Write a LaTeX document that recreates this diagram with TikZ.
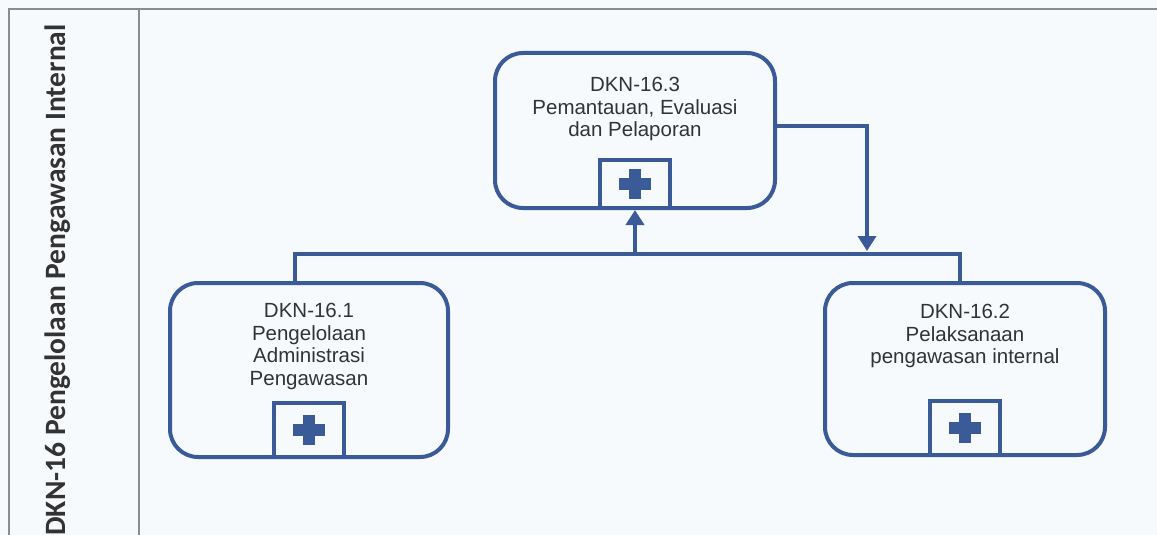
\documentclass[tikz,border=0pt]{standalone}
\usepackage{fontspec}
\setmainfont{Liberation Sans}
\newfontfamily\titlefont{Carlito}
\usetikzlibrary{arrows.meta,positioning}
\definecolor{flowblue}{HTML}{3A5A98}
\definecolor{textgray}{HTML}{333333}
\definecolor{framegray}{HTML}{8C8C8C}
\definecolor{paper}{HTML}{F7FAFD}

\begin{document}
\begin{tikzpicture}[x=1pt, y=-1pt,
    proc/.style={draw=flowblue, line width=4pt, rounded corners=28pt,
      inner sep=0pt, minimum width=280pt},
    proctext/.style={text=textgray, align=center, inner sep=0pt,
      font=\fontsize{20.5}{22.5}\selectfont},
    plusbox/.style={draw=flowblue, line width=4pt, fill=paper,
      minimum width=70pt, inner sep=0pt, anchor=south},
    flow/.style={draw=flowblue, line width=4pt},
    frameline/.style={draw=framegray, line width=1.5pt},
    title/.style={text=textgray, inner sep=0pt,
      font=\titlefont\bfseries\fontsize{29.5}{32}\selectfont}
  ]
  \fill[paper] (0,0) rectangle (1157,535);
  \useasboundingbox (0,0) rectangle (1157,535);

  % frame and lane title
  \draw[frameline] (9,535) -- (9,9) -- (1157,9);
  \draw[frameline] (139,9) -- (139,535);
  \node[title, rotate=90] (lane) at (58,280)
    {DKN-16 Pengelolaan Pengawasan Internal};

  % process boxes
  \node[proc, minimum height=155pt] (p3) at (635,130.5) {};
  \node[proc, minimum height=174pt, minimum width=278pt] (p1) at (309,370) {};
  \node[proc, minimum height=172pt] (p2) at (965,369) {};

  \node[proctext, below=26pt of p3.north] (p3-txt)
    {DKN-16.3\\Pemantauan, Evaluasi\\dan Pelaporan};
  \node[proctext, below=22pt of p1.north] (p1-txt)
    {DKN-16.1\\Pengelolaan\\Administrasi\\Pengawasan};
  \node[proctext, below=23pt of p2.north] (p2-txt)
    {DKN-16.2\\Pelaksanaan\\pengawasan internal};

  % expand markers
  \foreach \n/\h in {p3/48, p1/54, p2/54} {
    \node[plusbox, minimum height=\h pt] (\n-plus) at (\n.south) {};
    \fill[flowblue] ([xshift=-16pt, yshift=-6pt]\n-plus.center)
      rectangle ([xshift=16pt, yshift=6pt]\n-plus.center);
    \fill[flowblue] ([xshift=-6pt, yshift=-15pt]\n-plus.center)
      rectangle ([xshift=6pt, yshift=15pt]\n-plus.center);
  }

  % connectors
  \coordinate (jr) at (867,251);
  \coordinate (jm) at (p3-plus.south |- 0,254);
  \draw[flow, -{Triangle[width=18pt, length=15pt]}]
    ([yshift=5pt]p3.east) -| (jr);
  \draw[flow] ([xshift=-14pt]p1.north) |- (jm) -| ([xshift=-5pt]p2.north);
  \draw[flow, -{Triangle[width=18pt, length=15pt]}] (jm) -- (p3-plus.south);
\end{tikzpicture}
\end{document}
